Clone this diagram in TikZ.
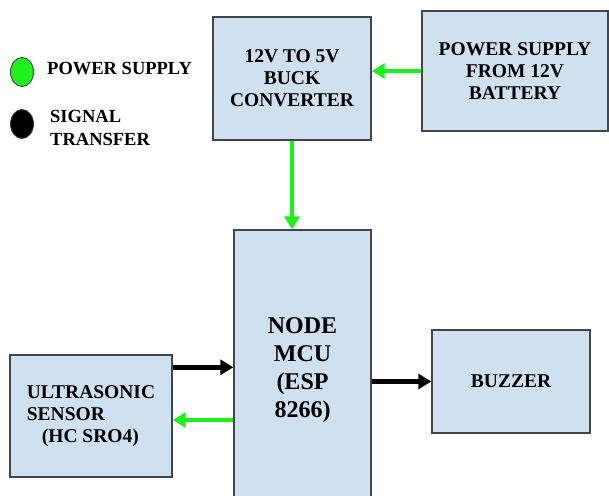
\documentclass[tikz,border=0pt]{standalone}
\usepackage{fontspec}
\setmainfont{Liberation Serif}
\usepackage{tikz}
\usetikzlibrary{positioning,shapes.geometric,arrows.meta,calc}
\definecolor{boxfill} {HTML}{CFE0F1}
\definecolor{boxline} {HTML}{454545}
\definecolor{pwrgreen}{HTML}{1EF01E}
\tikzset{
  % --- nodes
  blk/.style  = {rectangle, draw=boxline, fill=boxfill, line width=1.4pt, align=center,
                 inner sep=0pt, font=\bfseries\fontsize{19.5}{22}\selectfont},
  dot/.style  = {ellipse, draw=black!75, line width=0.9pt, minimum width=23pt,
                 minimum height=29pt, inner sep=0pt},
  key/.style  = {font=\bfseries\fontsize{18.5}{23}\selectfont, align=left, inner sep=0pt, anchor=west},
  % --- edges
  pwr/.style  = {-{Triangle[length=13pt,width=15pt]}, line width=4pt, draw=pwrgreen},
  sig/.style  = {-{Triangle[length=13pt,width=15pt]}, line width=4.5pt, draw=black},
}
\begin{document}
\begin{tikzpicture}[x=1pt,y=-1pt]
  \useasboundingbox (0,0) rectangle (609,495);
  % legend
  \node[dot, fill=pwrgreen] (gdot) at (22,72) {};
  \node[dot, fill=black]    (bdot) at (22,124) {};
  \node[key] (gkey) at (47,69) {POWER SUPPLY};
  \node[key] (bkey) at (50,128) {SIGNAL\\TRANSFER};
  % blocks
  \node[blk, minimum width=158pt, minimum height=123pt] (buck) at (292,78.5)
       {12V TO 5V\\BUCK\\CONVERTER};
  \node[blk, minimum width=186pt, minimum height=120pt] (batt) at (515,71)
       {POWER SUPPLY\\FROM 12V\\BATTERY};
  \node[blk, minimum width=137pt, minimum height=280pt,
        font=\bfseries\fontsize{24}{28}\selectfont] (mcu) at (302.5,370)
       {NODE\\MCU\\(ESP\\8266)};
  \node[blk, minimum width=158pt, minimum height=103pt] (buzz) at (511,381.5) {BUZZER};
  \node[blk, minimum width=162pt, minimum height=122pt, align=left] (sens) at (91,416)
       {ULTRASONIC\\SENSOR\\\hspace*{15pt}(HC SRO4)};
  % links
  \draw[pwr] (batt.west) -- (batt.west -| buck.east);
  \draw[pwr] (buck.south) -- (buck.south |- mcu.north);
  \draw[sig] ([yshift=-13pt]sens.north east) coordinate (s1) -- (s1 -| mcu.west);
  \draw[pwr] ([yshift=-4pt]sens.east -| mcu.west) coordinate (s2) -- (s2 -| sens.east);
  \draw[sig] (mcu.east |- buzz.west) -- (buzz.west);
\end{tikzpicture}
\end{document}
